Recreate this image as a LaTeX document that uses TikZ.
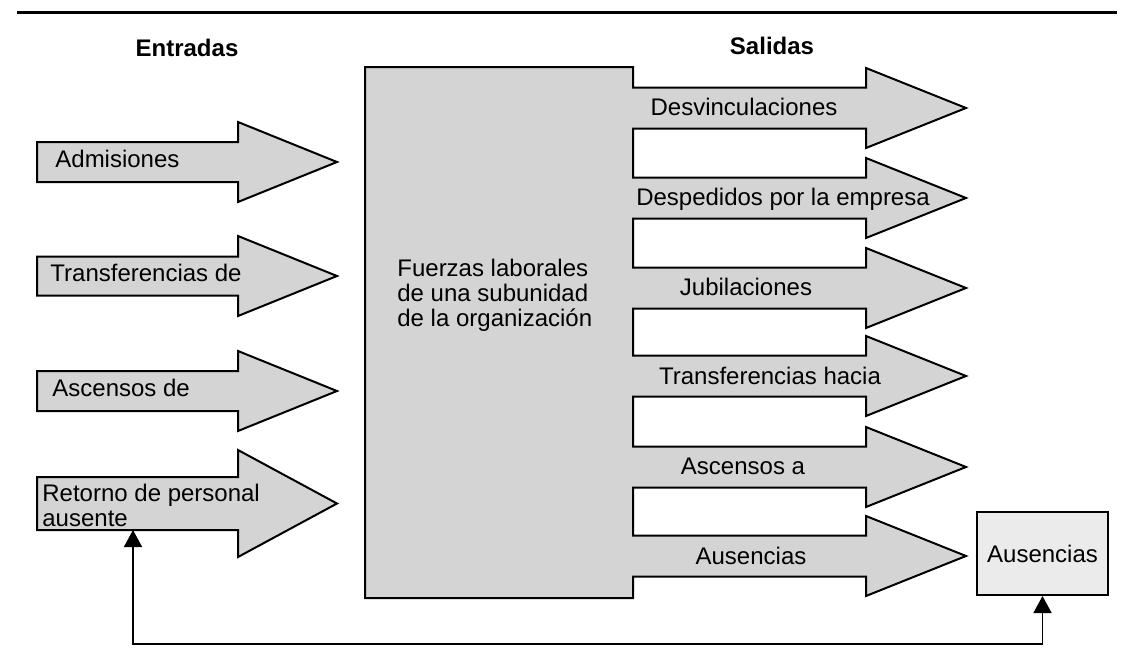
\documentclass[tikz,border=0pt]{standalone}
\usepackage{fontspec}
\setmainfont{Liberation Sans}
\usetikzlibrary{arrows.meta}
\definecolor{scangray}{gray}{0.83}
\definecolor{boxgray}{gray}{0.92}

\begin{document}
\begin{tikzpicture}[x=0.5pt, y=-0.5pt,
    flowarrow/.style={draw=black, line width=1pt, fill=scangray},
    lbl/.style={font=\fontsize{12}{12.5}\selectfont, inner sep=0pt},
    title/.style={font=\fontsize{12}{12.5}\selectfont\bfseries, inner sep=0pt},
    feedback/.style={line width=0.8pt, {Triangle[width=9pt,length=8.5pt]}-{Triangle[width=9pt,length=8.5pt]}}]

\useasboundingbox (0,0) rectangle (1124,664);

% Rule
\draw[line width=1.5pt] (17,12.5) -- (1117,12.5);

% Titles
\node[title] (entradas) at (187,48) {Entradas};
\node[title] (salidas) at (772,46) {Salidas};

% Input arrows
\foreach \y/\b/\h in {162/20/40, 276/19.5/40, 391/20/40, 503.5/26.5/53.5}
    \draw[flowarrow] (37,\y-\b) -- (238,\y-\b) -- (238,\y-\h) -- (337,\y)
        -- (238,\y+\h) -- (238,\y+\b) -- (37,\y+\b) -- cycle;

\node[lbl, anchor=mid west] (admisiones) at (55,162) {Admisiones};
\node[lbl, anchor=mid west] (transfde) at (50,276) {Transferencias de};
\node[lbl, anchor=mid west] (ascensosde) at (52,391) {Ascensos de};
\node[lbl, anchor=west, align=left] (retorno) at (42,505) {Retorno de personal\\ausente};
\coordinate (retbase) at (133,530);

% Work force box with output arrows
\draw[flowarrow] (365,67) -- (633,67)
    foreach \y in {108,198,288,376,467,556} {
        -- (633,\y-20.5) -- (866,\y-20.5) -- (866,\y-40) -- (966,\y)
        -- (866,\y+40) -- (866,\y+20.5) -- (633,\y+20.5) }
    -- (633,598) -- (365,598) -- cycle;

\node[lbl, anchor=north west, align=left] (fuerzas) at (397,259)
    {Fuerzas laborales\\de una subunidad\\de la organización};

% Output labels
\node[lbl, anchor=mid] (desv) at (744,110) {Desvinculaciones};
\node[lbl, anchor=mid] (despedidos) at (783,200) {Despedidos por la empresa};
\node[lbl, anchor=mid] (jubil) at (746,290) {Jubilaciones};
\node[lbl, anchor=mid] (transfhacia) at (770,379) {Transferencias hacia};
\node[lbl, anchor=mid] (ascensosa) at (743,469) {Ascensos a};
\node[lbl, anchor=mid] (ausarrow) at (751,559) {Ausencias};

% Absences box and feedback
\node[lbl, draw, line width=1pt, fill=boxgray, minimum width=65.5pt,
    minimum height=41.5pt] (ausbox) at (1042.5,553.5) {Ausencias};

\draw[feedback] (ausbox.south) -- ++(0,48) -| (retbase);

\end{tikzpicture}
\end{document}
